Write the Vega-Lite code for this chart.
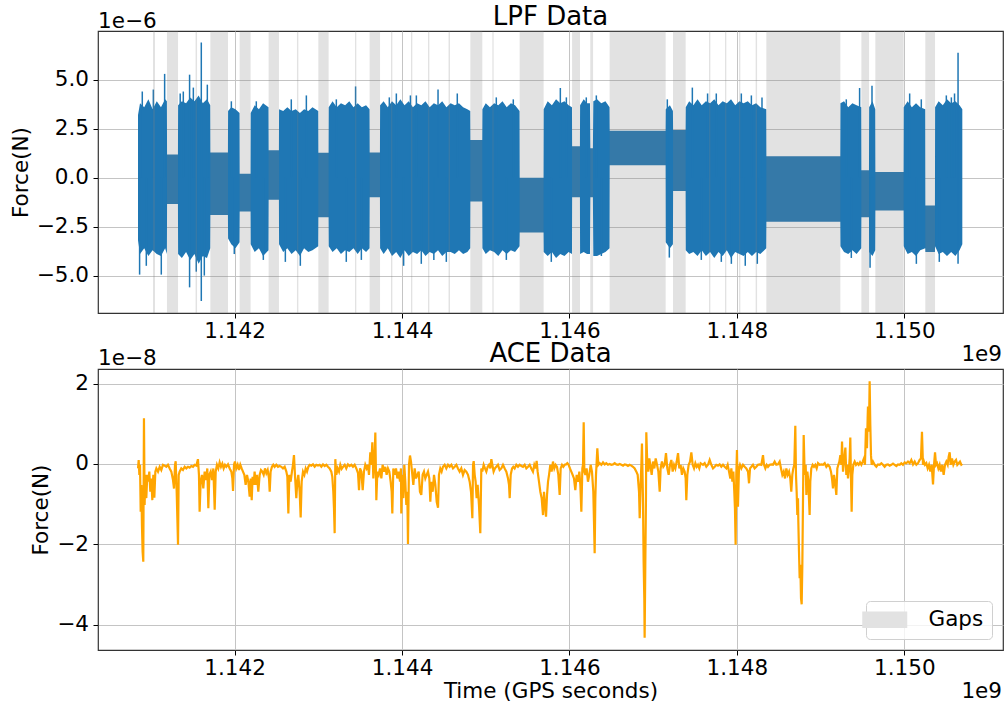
{
"$schema": "https://vega.github.io/schema/vega-lite/v6.json",
"background": "white",
"padding": {"left": 9, "top": 3, "right": 0, "bottom": 0},
"config": {
  "font": "DejaVu Sans",
  "view": {"stroke": "#333333", "strokeWidth": 1.2},
  "axis": {"labelFont": "DejaVu Sans", "titleFont": "DejaVu Sans", "labelFontSize": 21.5, "titleFontSize": 21.5, "labelColor": "#000000", "titleColor": "#000000", "titleFontWeight": "normal", "tickColor": "#000000", "tickSize": 5, "tickWidth": 1, "domain": false, "grid": true, "gridColor": "#c4c4c4", "gridWidth": 1},
  "title": {"font": "DejaVu Sans", "fontSize": 26, "fontWeight": "normal", "color": "#000000"}
},
"datasets": {
"lpf": [
{"t":1.140846,"lo":-3.2,"hi":3.2},{"t":1.140870,"lo":-3.9,"hi":3.8},{"t":1.140920,"lo":-3.6,"hi":3.6},{"t":1.140970,"lo":-4.0,"hi":4.0},{"t":1.141020,"lo":-3.7,"hi":3.5},{"t":1.141070,"lo":-3.9,"hi":3.9},{"t":1.141120,"lo":-4.0,"hi":3.6},{"t":1.141170,"lo":-3.6,"hi":4.0},{"t":1.141191,"lo":-3.9,"hi":3.9},
{"t":1.141193,"lo":-1.34,"hi":1.18},{"t":1.141323,"lo":-1.34,"hi":1.18},
{"t":1.141325,"lo":-3.9,"hi":3.7},{"t":1.141370,"lo":-4.1,"hi":3.9},{"t":1.141420,"lo":-3.8,"hi":3.8},{"t":1.141470,"lo":-4.2,"hi":4.1},{"t":1.141520,"lo":-3.9,"hi":3.9},{"t":1.141570,"lo":-4.4,"hi":4.2},{"t":1.141620,"lo":-4.0,"hi":3.8},{"t":1.141670,"lo":-4.1,"hi":4.0},{"t":1.141709,"lo":-3.6,"hi":3.7},
{"t":1.141711,"lo":-1.9,"hi":1.29},{"t":1.141920,"lo":-1.9,"hi":1.29},
{"t":1.141922,"lo":-3.1,"hi":3.4},{"t":1.141960,"lo":-3.4,"hi":3.6},{"t":1.142010,"lo":-3.6,"hi":3.5},{"t":1.142059,"lo":-3.3,"hi":3.3},
{"t":1.142061,"lo":-1.73,"hi":0.2},{"t":1.142190,"lo":-1.73,"hi":0.2},
{"t":1.142192,"lo":-3.4,"hi":3.3},{"t":1.142240,"lo":-3.8,"hi":3.7},{"t":1.142290,"lo":-3.6,"hi":3.5},{"t":1.142340,"lo":-4.0,"hi":3.8},{"t":1.142405,"lo":-3.7,"hi":3.6},
{"t":1.142407,"lo":-1.13,"hi":1.4},{"t":1.142529,"lo":-1.13,"hi":1.4},
{"t":1.142531,"lo":-3.4,"hi":3.5},{"t":1.142580,"lo":-3.8,"hi":3.4},{"t":1.142630,"lo":-3.6,"hi":3.6},{"t":1.142680,"lo":-3.9,"hi":3.4},{"t":1.142730,"lo":-3.7,"hi":3.5},{"t":1.142780,"lo":-4.0,"hi":3.3},{"t":1.142830,"lo":-3.6,"hi":3.5},{"t":1.142880,"lo":-3.8,"hi":3.4},{"t":1.142930,"lo":-3.7,"hi":3.6},{"t":1.142999,"lo":-3.5,"hi":3.4},
{"t":1.143001,"lo":-2.02,"hi":1.27},{"t":1.143122,"lo":-2.02,"hi":1.27},
{"t":1.143124,"lo":-3.5,"hi":3.6},{"t":1.143170,"lo":-3.8,"hi":3.9},{"t":1.143220,"lo":-3.6,"hi":3.6},{"t":1.143270,"lo":-3.9,"hi":3.8},{"t":1.143320,"lo":-3.7,"hi":3.7},{"t":1.143370,"lo":-3.8,"hi":3.9},{"t":1.143420,"lo":-3.6,"hi":3.6},{"t":1.143470,"lo":-3.9,"hi":3.8},{"t":1.143520,"lo":-3.6,"hi":3.6},{"t":1.143570,"lo":-3.8,"hi":3.7},{"t":1.143612,"lo":-3.6,"hi":3.5},
{"t":1.143614,"lo":-1.0,"hi":1.29},{"t":1.143736,"lo":-1.0,"hi":1.29},
{"t":1.143738,"lo":-3.6,"hi":3.7},{"t":1.143780,"lo":-3.9,"hi":3.9},{"t":1.143830,"lo":-3.6,"hi":3.6},{"t":1.143880,"lo":-4.0,"hi":3.9},{"t":1.143930,"lo":-3.8,"hi":3.7},{"t":1.143980,"lo":-4.1,"hi":4.0},{"t":1.144030,"lo":-3.7,"hi":3.7},{"t":1.144080,"lo":-4.0,"hi":3.9},{"t":1.144130,"lo":-3.8,"hi":3.6},{"t":1.144180,"lo":-3.9,"hi":3.8},{"t":1.144230,"lo":-3.7,"hi":3.7},{"t":1.144280,"lo":-4.0,"hi":3.9},{"t":1.144330,"lo":-3.8,"hi":3.6},{"t":1.144380,"lo":-3.9,"hi":3.8},{"t":1.144430,"lo":-3.7,"hi":3.7},{"t":1.144480,"lo":-4.0,"hi":3.9},{"t":1.144530,"lo":-3.8,"hi":3.6},{"t":1.144580,"lo":-3.8,"hi":3.8},{"t":1.144630,"lo":-3.9,"hi":3.7},{"t":1.144680,"lo":-3.7,"hi":3.8},{"t":1.144730,"lo":-3.9,"hi":3.6},{"t":1.144780,"lo":-3.8,"hi":3.5},{"t":1.144815,"lo":-3.6,"hi":3.4},
{"t":1.144817,"lo":-1.22,"hi":1.92},{"t":1.144958,"lo":-1.22,"hi":1.92},
{"t":1.144960,"lo":-3.6,"hi":3.5},{"t":1.145000,"lo":-3.9,"hi":3.8},{"t":1.145050,"lo":-3.7,"hi":3.6},{"t":1.145100,"lo":-3.8,"hi":3.8},{"t":1.145150,"lo":-4.0,"hi":3.7},{"t":1.145200,"lo":-3.7,"hi":3.9},{"t":1.145250,"lo":-3.9,"hi":3.6},{"t":1.145300,"lo":-3.7,"hi":3.8},{"t":1.145350,"lo":-3.8,"hi":3.7},{"t":1.145404,"lo":-3.5,"hi":3.4},
{"t":1.145406,"lo":-2.8,"hi":0.0},{"t":1.145690,"lo":-2.8,"hi":0.0},
{"t":1.145692,"lo":-3.8,"hi":3.5},{"t":1.145740,"lo":-4.0,"hi":3.9},{"t":1.145790,"lo":-3.8,"hi":3.7},{"t":1.145840,"lo":-4.1,"hi":4.0},{"t":1.145890,"lo":-3.9,"hi":3.8},{"t":1.145940,"lo":-4.0,"hi":3.9},{"t":1.145990,"lo":-3.8,"hi":3.7},{"t":1.146030,"lo":-3.9,"hi":3.6},
{"t":1.146032,"lo":-1.0,"hi":1.6},{"t":1.146125,"lo":-1.0,"hi":1.6},
{"t":1.146127,"lo":-3.9,"hi":3.7},{"t":1.146170,"lo":-3.8,"hi":4.0},{"t":1.146210,"lo":-3.9,"hi":3.8},{"t":1.146245,"lo":-3.9,"hi":3.8},{"t":1.146250,"lo":-1.0,"hi":1.5},{"t":1.146280,"lo":-1.0,"hi":1.5},{"t":1.146285,"lo":-4.0,"hi":3.9},{"t":1.146330,"lo":-4.0,"hi":4.0},{"t":1.146380,"lo":-3.9,"hi":3.8},{"t":1.146430,"lo":-3.8,"hi":3.9},{"t":1.146479,"lo":-3.6,"hi":3.6},
{"t":1.146481,"lo":0.63,"hi":2.4},{"t":1.147148,"lo":0.63,"hi":2.4},
{"t":1.147150,"lo":-3.3,"hi":3.5},{"t":1.147200,"lo":-3.6,"hi":3.7},{"t":1.147236,"lo":-3.4,"hi":3.4},
{"t":1.147238,"lo":-0.68,"hi":2.43},{"t":1.147387,"lo":-0.68,"hi":2.43},
{"t":1.147389,"lo":-3.7,"hi":3.6},{"t":1.147430,"lo":-3.9,"hi":3.9},{"t":1.147480,"lo":-3.8,"hi":3.7},{"t":1.147530,"lo":-4.0,"hi":4.0},{"t":1.147580,"lo":-3.7,"hi":3.7},{"t":1.147630,"lo":-4.0,"hi":3.9},{"t":1.147680,"lo":-3.8,"hi":3.8},{"t":1.147730,"lo":-4.1,"hi":4.0},{"t":1.147780,"lo":-3.8,"hi":3.7},{"t":1.147830,"lo":-4.0,"hi":3.9},{"t":1.147880,"lo":-3.7,"hi":3.8},{"t":1.147930,"lo":-4.1,"hi":4.0},{"t":1.147980,"lo":-3.8,"hi":3.7},{"t":1.148030,"lo":-3.9,"hi":3.9},{"t":1.148080,"lo":-4.0,"hi":3.8},{"t":1.148130,"lo":-3.8,"hi":3.9},{"t":1.148180,"lo":-4.0,"hi":3.7},{"t":1.148230,"lo":-3.8,"hi":3.8},{"t":1.148280,"lo":-3.9,"hi":3.6},{"t":1.148351,"lo":-3.6,"hi":3.5},
{"t":1.148353,"lo":-2.25,"hi":1.1},{"t":1.149235,"lo":-2.25,"hi":1.1},
{"t":1.149237,"lo":-3.5,"hi":3.8},{"t":1.149280,"lo":-3.8,"hi":3.9},{"t":1.149330,"lo":-3.9,"hi":3.6},{"t":1.149380,"lo":-3.7,"hi":3.8},{"t":1.149430,"lo":-3.9,"hi":3.7},{"t":1.149486,"lo":-3.6,"hi":3.6},
{"t":1.149488,"lo":-2.02,"hi":0.38},{"t":1.149578,"lo":-2.02,"hi":0.38},
{"t":1.149580,"lo":-3.8,"hi":3.6},{"t":1.149620,"lo":-4.0,"hi":3.9},{"t":1.149653,"lo":-3.7,"hi":3.5},
{"t":1.149655,"lo":-1.68,"hi":0.29},{"t":1.149991,"lo":-1.68,"hi":0.29},
{"t":1.149993,"lo":-3.5,"hi":3.6},{"t":1.150040,"lo":-3.9,"hi":3.9},{"t":1.150090,"lo":-3.8,"hi":3.6},{"t":1.150140,"lo":-4.0,"hi":3.8},{"t":1.150190,"lo":-3.7,"hi":3.6},{"t":1.150250,"lo":-3.6,"hi":3.5},
{"t":1.150252,"lo":-3.79,"hi":-1.42},{"t":1.150366,"lo":-3.79,"hi":-1.42},
{"t":1.150368,"lo":-3.5,"hi":3.6},{"t":1.150410,"lo":-3.9,"hi":3.9},{"t":1.150460,"lo":-3.8,"hi":3.7},{"t":1.150510,"lo":-4.0,"hi":4.0},{"t":1.150560,"lo":-3.8,"hi":3.8},{"t":1.150610,"lo":-4.0,"hi":3.9},{"t":1.150660,"lo":-3.7,"hi":3.7},{"t":1.150693,"lo":-3.4,"hi":3.5}
],
"lpf_spikes": [
{"t":1.140865,"lo":-4.95,"hi":0},{"t":1.141164,"lo":0,"hi":5.3},{"t":1.141124,"lo":-4.95,"hi":0},{"t":1.141029,"lo":0,"hi":4.5},{"t":1.140945,"lo":-4.5,"hi":0},{"t":1.140897,"lo":0,"hi":4.4},
{"t":1.141462,"lo":-5.6,"hi":5.26},{"t":1.141602,"lo":-6.3,"hi":6.9},{"t":1.141674,"lo":0,"hi":4.75},{"t":1.141542,"lo":-4.8,"hi":0},{"t":1.141387,"lo":0,"hi":4.4},{"t":1.141638,"lo":-5.0,"hi":0},{"t":1.141507,"lo":0,"hi":4.6},{"t":1.141350,"lo":0,"hi":4.3},
{"t":1.141961,"lo":0,"hi":3.9},{"t":1.141996,"lo":-3.9,"hi":0},{"t":1.142259,"lo":0,"hi":3.9},{"t":1.142343,"lo":-4.2,"hi":0},
{"t":1.142785,"lo":-4.5,"hi":0},{"t":1.142677,"lo":0,"hi":4.0},{"t":1.142857,"lo":0,"hi":4.2},{"t":1.142606,"lo":-4.3,"hi":0},
{"t":1.143445,"lo":0,"hi":4.66},{"t":1.143334,"lo":-4.3,"hi":0},{"t":1.143215,"lo":0,"hi":4.0},{"t":1.143514,"lo":-4.2,"hi":0},
{"t":1.144430,"lo":0,"hi":4.5},{"t":1.144660,"lo":0,"hi":4.3},{"t":1.144019,"lo":-4.5,"hi":0},{"t":1.143932,"lo":0,"hi":4.3},{"t":1.144230,"lo":-4.4,"hi":0},{"t":1.144171,"lo":0,"hi":4.2},{"t":1.144529,"lo":-4.3,"hi":0},{"t":1.143848,"lo":0,"hi":4.1},{"t":1.144380,"lo":-4.2,"hi":0},{"t":1.144100,"lo":0,"hi":4.2},
{"t":1.145126,"lo":0,"hi":4.1},{"t":1.145246,"lo":-4.2,"hi":0},{"t":1.145329,"lo":0,"hi":4.0},
{"t":1.145891,"lo":0,"hi":4.58},{"t":1.145783,"lo":-4.3,"hi":0},{"t":1.145963,"lo":0,"hi":4.1},
{"t":1.146201,"lo":0,"hi":4.1},{"t":1.146381,"lo":-4.0,"hi":0},{"t":1.146321,"lo":0,"hi":4.2},
{"t":1.147169,"lo":0,"hi":4.0},{"t":1.147193,"lo":-4.08,"hi":0},
{"t":1.147468,"lo":0,"hi":4.6},{"t":1.147575,"lo":-4.2,"hi":0},{"t":1.147754,"lo":0,"hi":4.3},{"t":1.147934,"lo":-4.4,"hi":0},{"t":1.148053,"lo":0,"hi":4.3},{"t":1.148244,"lo":-4.4,"hi":0},{"t":1.148173,"lo":0,"hi":4.2},{"t":1.147814,"lo":-4.3,"hi":0},{"t":1.147650,"lo":0,"hi":4.3},{"t":1.148100,"lo":-4.5,"hi":0},{"t":1.148300,"lo":0,"hi":4.1},
{"t":1.149466,"lo":0,"hi":4.58},{"t":1.149307,"lo":0,"hi":4.0},{"t":1.149367,"lo":-4.1,"hi":0},
{"t":1.149614,"lo":0,"hi":4.7},{"t":1.149591,"lo":-4.6,"hi":0},
{"t":1.150064,"lo":0,"hi":4.3},{"t":1.150144,"lo":-4.4,"hi":0},{"t":1.150203,"lo":0,"hi":4.0},
{"t":1.150642,"lo":-4.4,"hi":6.38},{"t":1.150502,"lo":0,"hi":4.2},{"t":1.150418,"lo":-4.3,"hi":0},{"t":1.150562,"lo":0,"hi":4.1},{"t":1.150600,"lo":0,"hi":4.3}
],
"gaps": [
{"start":1.141192,"end":1.141324},{"start":1.141710,"end":1.141921},{"start":1.142060,"end":1.142191},{"start":1.142406,"end":1.142530},{"start":1.143000,"end":1.143123},{"start":1.143613,"end":1.143737},{"start":1.144816,"end":1.144959},{"start":1.145405,"end":1.145691},{"start":1.146031,"end":1.146126},{"start":1.146480,"end":1.147149},{"start":1.147237,"end":1.147388},{"start":1.148352,"end":1.149236},{"start":1.149487,"end":1.149579},{"start":1.149654,"end":1.149992},{"start":1.150251,"end":1.150367},
{"start":1.141025,"end":1.141049},{"start":1.141534,"end":1.141551},{"start":1.142745,"end":1.142761},{"start":1.143438,"end":1.143454},{"start":1.143868,"end":1.143884},{"start":1.144107,"end":1.144123},{"start":1.144310,"end":1.144326},{"start":1.144556,"end":1.144573},{"start":1.145079,"end":1.145094},{"start":1.146249,"end":1.146282},{"start":1.147667,"end":1.147683},{"start":1.147858,"end":1.147874},{"start":1.148026,"end":1.148041},{"start":1.148224,"end":1.148241}
],
"ace": [
{"t":1.140846,"f":-0.11},{"t":1.140854,"f":0.10},{"t":1.140862,"f":-0.27},{"t":1.140870,"f":-0.02},{"t":1.140878,"f":-1.19},{"t":1.140886,"f":-0.52},{"t":1.140893,"f":-1.52},{"t":1.140901,"f":-2.18},{"t":1.140909,"f":-2.43},{"t":1.140917,"f":1.14},{"t":1.140925,"f":-1.02},{"t":1.140933,"f":-0.27},{"t":1.140945,"f":-0.85},{"t":1.140957,"f":-0.27},{"t":1.140969,"f":-0.44},{"t":1.140981,"f":-0.19},{"t":1.140993,"f":-0.69},{"t":1.141005,"f":-0.36},{"t":1.141017,"f":-0.90},{"t":1.141029,"f":-0.27},{"t":1.141041,"f":-0.84},{"t":1.141053,"f":-0.19},{"t":1.141065,"f":-0.11},{"t":1.141085,"f":-0.19},{"t":1.141105,"f":-0.07},{"t":1.141124,"f":-0.15},{"t":1.141144,"f":-0.02},{"t":1.141164,"f":-0.04},{"t":1.141184,"f":-0.07},{"t":1.141204,"f":-0.02},{"t":1.141224,"f":-0.11},{"t":1.141244,"f":-0.19},{"t":1.141264,"f":-0.40},{"t":1.141276,"f":-0.61},{"t":1.141288,"f":-0.02},{"t":1.141296,"f":0.07},{"t":1.141308,"f":-0.69},{"t":1.141316,"f":-1.35},{"t":1.141324,"f":-2.01},{"t":1.141332,"f":-0.27},{"t":1.141343,"f":-0.19},{"t":1.141363,"f":-0.11},{"t":1.141383,"f":-0.15},{"t":1.141403,"f":-0.07},{"t":1.141423,"f":-0.11},{"t":1.141443,"f":-0.07},{"t":1.141463,"f":-0.09},{"t":1.141483,"f":-0.05},{"t":1.141503,"f":-0.07},{"t":1.141523,"f":-0.02},{"t":1.141543,"f":-0.04},{"t":1.141562,"f":0.12},{"t":1.141574,"f":-0.27},{"t":1.141582,"f":-1.19},{"t":1.141594,"f":-0.44},{"t":1.141610,"f":-0.27},{"t":1.141626,"f":-0.61},{"t":1.141642,"f":-0.19},{"t":1.141658,"f":-0.40},{"t":1.141674,"f":-0.11},{"t":1.141686,"f":-1.10},{"t":1.141698,"f":-0.27},{"t":1.141714,"f":-0.19},{"t":1.141730,"f":-0.40},{"t":1.141746,"f":-0.11},{"t":1.141762,"f":-1.14},{"t":1.141774,"f":-0.19},{"t":1.141789,"f":-0.02},{"t":1.141805,"f":-0.11},{"t":1.141821,"f":0.04},{"t":1.141837,"f":-0.07},{"t":1.141853,"f":0.01},{"t":1.141869,"f":-0.11},{"t":1.141885,"f":-0.02},{"t":1.141901,"f":-0.07},{"t":1.141921,"f":-0.01},{"t":1.141941,"f":-0.11},{"t":1.141961,"f":-0.19},{"t":1.141973,"f":-0.36},{"t":1.141981,"f":-0.67},{"t":1.141993,"f":-0.02},{"t":1.142004,"f":0.06},{"t":1.142020,"f":-0.11},{"t":1.142036,"f":-0.02},{"t":1.142052,"f":-0.15},{"t":1.142068,"f":-0.02},{"t":1.142084,"f":-0.11},{"t":1.142100,"f":-0.19},{"t":1.142116,"f":-0.27},{"t":1.142132,"f":-0.52},{"t":1.142148,"f":-0.27},{"t":1.142164,"f":-0.44},{"t":1.142180,"f":-0.81},{"t":1.142192,"f":-0.36},{"t":1.142204,"f":-0.90},{"t":1.142215,"f":-0.32},{"t":1.142227,"f":-0.52},{"t":1.142239,"f":-0.19},{"t":1.142251,"f":-0.52},{"t":1.142267,"f":-0.27},{"t":1.142283,"f":-0.69},{"t":1.142299,"f":-0.27},{"t":1.142315,"f":-0.15},{"t":1.142331,"f":-0.19},{"t":1.142347,"f":-0.27},{"t":1.142363,"f":-0.11},{"t":1.142379,"f":-0.23},{"t":1.142395,"f":-0.15},{"t":1.142411,"f":-0.36},{"t":1.142419,"f":-0.69},{"t":1.142430,"f":-0.19},{"t":1.142446,"f":-0.07},{"t":1.142462,"f":-0.02},{"t":1.142478,"f":-0.07},{"t":1.142498,"f":-0.02},{"t":1.142518,"f":-0.07},{"t":1.142538,"f":-0.05},{"t":1.142558,"f":-0.07},{"t":1.142578,"f":-0.11},{"t":1.142598,"f":-0.07},{"t":1.142618,"f":-0.19},{"t":1.142630,"f":-0.32},{"t":1.142642,"f":-1.23},{"t":1.142654,"f":-0.27},{"t":1.142669,"f":-0.44},{"t":1.142685,"f":-0.19},{"t":1.142697,"f":-0.02},{"t":1.142709,"f":0.22},{"t":1.142721,"f":-0.27},{"t":1.142737,"f":-0.85},{"t":1.142749,"f":-0.44},{"t":1.142761,"f":-0.27},{"t":1.142777,"f":-0.69},{"t":1.142789,"f":-1.33},{"t":1.142801,"f":-0.44},{"t":1.142817,"f":-0.19},{"t":1.142833,"f":-0.27},{"t":1.142849,"f":-0.11},{"t":1.142865,"f":-0.19},{"t":1.142881,"f":-0.07},{"t":1.142896,"f":-0.02},{"t":1.142916,"f":-0.04},{"t":1.142936,"f":-0.01},{"t":1.142956,"f":-0.07},{"t":1.142976,"f":-0.02},{"t":1.142996,"f":-0.04},{"t":1.143016,"f":-0.02},{"t":1.143036,"f":-0.07},{"t":1.143056,"f":-0.01},{"t":1.143076,"f":-0.05},{"t":1.143096,"f":-0.02},{"t":1.143115,"f":-0.07},{"t":1.143135,"f":-0.11},{"t":1.143155,"f":-0.19},{"t":1.143167,"f":-0.32},{"t":1.143179,"f":-0.69},{"t":1.143187,"f":-1.10},{"t":1.143195,"f":-1.72},{"t":1.143203,"f":0.12},{"t":1.143215,"f":-0.27},{"t":1.143231,"f":-0.11},{"t":1.143247,"f":-0.19},{"t":1.143263,"f":-0.02},{"t":1.143279,"f":-0.12},{"t":1.143295,"f":-0.07},{"t":1.143315,"f":-0.02},{"t":1.143334,"f":-0.11},{"t":1.143354,"f":-0.01},{"t":1.143374,"f":-0.05},{"t":1.143394,"f":-0.02},{"t":1.143414,"f":-0.07},{"t":1.143434,"f":-0.02},{"t":1.143454,"f":-0.11},{"t":1.143474,"f":-0.23},{"t":1.143486,"f":-0.65},{"t":1.143498,"f":-0.11},{"t":1.143514,"f":-0.19},{"t":1.143530,"f":-0.65},{"t":1.143545,"f":-0.19},{"t":1.143561,"f":-0.02},{"t":1.143577,"f":-0.11},{"t":1.143593,"f":-0.02},{"t":1.143605,"f":-0.27},{"t":1.143621,"f":0.29},{"t":1.143633,"f":-0.02},{"t":1.143645,"f":0.54},{"t":1.143657,"f":-0.36},{"t":1.143669,"f":-0.02},{"t":1.143681,"f":0.78},{"t":1.143693,"f":-0.90},{"t":1.143705,"f":-0.19},{"t":1.143721,"f":-0.27},{"t":1.143737,"f":-0.11},{"t":1.143753,"f":-0.36},{"t":1.143768,"f":-0.02},{"t":1.143784,"f":-0.19},{"t":1.143800,"f":-0.07},{"t":1.143816,"f":-0.27},{"t":1.143832,"f":-0.11},{"t":1.143848,"f":-0.19},{"t":1.143864,"f":-0.44},{"t":1.143876,"f":-0.69},{"t":1.143884,"f":-1.23},{"t":1.143896,"f":-0.11},{"t":1.143912,"f":-0.27},{"t":1.143928,"f":-0.11},{"t":1.143944,"f":-0.36},{"t":1.143960,"f":-0.19},{"t":1.143976,"f":-0.44},{"t":1.143987,"f":-0.11},
{"t":1.143991,"f":-1.23},{"t":1.144003,"f":-0.27},{"t":1.144015,"f":-0.85},{"t":1.144027,"f":-0.02},{"t":1.144039,"f":-0.44},{"t":1.144051,"f":-1.02},{"t":1.144063,"f":-0.69},{"t":1.144071,"f":-1.99},{"t":1.144083,"f":-0.02},{"t":1.144095,"f":0.21},{"t":1.144107,"f":0.06},{"t":1.144119,"f":-0.19},{"t":1.144135,"f":-0.52},{"t":1.144151,"f":-0.11},{"t":1.144167,"f":-0.36},{"t":1.144183,"f":-0.27},{"t":1.144199,"f":-0.19},{"t":1.144214,"f":-0.69},{"t":1.144230,"f":-0.77},{"t":1.144246,"f":-0.27},{"t":1.144262,"f":-0.19},{"t":1.144278,"f":-0.36},{"t":1.144294,"f":-0.27},{"t":1.144310,"f":-0.19},{"t":1.144326,"f":-0.36},{"t":1.144338,"f":-0.94},{"t":1.144350,"f":-0.44},{"t":1.144366,"f":-0.69},{"t":1.144382,"f":-0.27},{"t":1.144398,"f":-0.52},{"t":1.144414,"f":-0.94},{"t":1.144430,"f":-1.09},{"t":1.144441,"f":-0.27},{"t":1.144457,"f":-0.11},{"t":1.144473,"f":-0.19},{"t":1.144489,"f":-0.07},{"t":1.144509,"f":-0.02},{"t":1.144529,"f":-0.11},{"t":1.144549,"f":-0.02},{"t":1.144569,"f":-0.07},{"t":1.144589,"f":-0.02},{"t":1.144609,"f":-0.11},{"t":1.144629,"f":-0.07},{"t":1.144649,"f":-0.02},{"t":1.144668,"f":-0.11},{"t":1.144688,"f":-0.19},{"t":1.144708,"f":-0.11},{"t":1.144728,"f":-0.27},{"t":1.144748,"f":-0.15},{"t":1.144768,"f":-0.19},{"t":1.144788,"f":-0.27},{"t":1.144808,"f":-0.44},{"t":1.144824,"f":-0.69},{"t":1.144840,"f":-1.35},{"t":1.144848,"f":-0.02},{"t":1.144856,"f":0.07},{"t":1.144868,"f":-0.27},{"t":1.144879,"f":-0.44},{"t":1.144891,"f":-0.85},{"t":1.144903,"f":-0.52},{"t":1.144919,"f":-1.02},{"t":1.144935,"f":-1.72},{"t":1.144947,"f":-0.11},{"t":1.144959,"f":-0.19},{"t":1.144975,"f":-0.02},{"t":1.144991,"f":-0.11},{"t":1.145007,"f":-0.19},{"t":1.145023,"f":-0.07},{"t":1.145039,"f":-0.02},{"t":1.145055,"f":-0.11},{"t":1.145067,"f":0.12},{"t":1.145079,"f":-0.02},{"t":1.145094,"f":-0.19},{"t":1.145110,"f":-0.11},{"t":1.145126,"f":-0.07},{"t":1.145146,"f":-0.02},{"t":1.145166,"f":-0.15},{"t":1.145186,"f":-0.11},{"t":1.145206,"f":-0.02},{"t":1.145226,"f":-0.11},{"t":1.145246,"f":-0.19},{"t":1.145266,"f":-0.36},{"t":1.145278,"f":-0.52},{"t":1.145286,"f":-0.85},{"t":1.145298,"f":-0.27},{"t":1.145314,"f":-0.11},{"t":1.145329,"f":-0.07},{"t":1.145345,"f":-0.11},{"t":1.145365,"f":-0.02},{"t":1.145385,"f":-0.07},{"t":1.145405,"f":-0.02},{"t":1.145425,"f":-0.05},{"t":1.145445,"f":-0.07},{"t":1.145465,"f":-0.02},{"t":1.145485,"f":-0.11},{"t":1.145505,"f":-0.07},{"t":1.145525,"f":-0.02},{"t":1.145544,"f":-0.11},{"t":1.145564,"f":-0.19},{"t":1.145580,"f":-0.02},{"t":1.145596,"f":-0.11},{"t":1.145608,"f":0.08},{"t":1.145620,"f":-0.19},{"t":1.145636,"f":-0.44},{"t":1.145652,"f":-0.69},{"t":1.145668,"f":-0.85},{"t":1.145684,"f":-1.27},{"t":1.145696,"f":-0.69},{"t":1.145708,"f":-1.02},{"t":1.145720,"f":-1.31},{"t":1.145732,"f":-0.77},{"t":1.145744,"f":-0.44},{"t":1.145756,"f":-0.27},{"t":1.145771,"f":-0.02},{"t":1.145787,"f":-0.19},{"t":1.145803,"f":0.06},{"t":1.145819,"f":-0.11},{"t":1.145835,"f":-0.02},{"t":1.145851,"f":-0.07},{"t":1.145867,"f":-0.27},{"t":1.145883,"f":-0.77},{"t":1.145895,"f":-0.11},{"t":1.145911,"f":-0.02},{"t":1.145927,"f":-0.07},{"t":1.145943,"f":-0.02},{"t":1.145959,"f":-0.01},{"t":1.145975,"f":0.02},{"t":1.145990,"f":-0.02},{"t":1.146006,"f":-0.11},{"t":1.146022,"f":-0.19},{"t":1.146038,"f":-0.27},{"t":1.146054,"f":-0.36},{"t":1.146070,"f":-0.65},{"t":1.146086,"f":-0.27},{"t":1.146102,"f":-0.44},{"t":1.146118,"f":-0.19},{"t":1.146130,"f":-0.52},{"t":1.146142,"f":-1.19},{"t":1.146154,"f":-0.11},{"t":1.146162,"f":-0.02},{"t":1.146170,"f":1.04},{"t":1.146178,"f":-0.19},{"t":1.146190,"f":-0.27},{"t":1.146205,"f":-0.11},{"t":1.146221,"f":-0.44},{"t":1.146237,"f":-0.27},{"t":1.146253,"f":-0.02},{"t":1.146269,"f":-0.19},{"t":1.146285,"f":-0.69},{"t":1.146293,"f":-1.43},{"t":1.146301,"f":-2.22},{"t":1.146309,"f":-0.85},{"t":1.146317,"f":-0.27},{"t":1.146325,"f":0.06},{"t":1.146333,"f":0.39},{"t":1.146345,"f":-0.02},{"t":1.146361,"f":0.02},{"t":1.146381,"f":-0.02},{"t":1.146401,"f":0.04},{"t":1.146421,"f":-0.01},{"t":1.146440,"f":0.02},{"t":1.146460,"f":-0.02},{"t":1.146480,"f":0.00},{"t":1.146500,"f":-0.02},{"t":1.146520,"f":-0.01},{"t":1.146540,"f":0.02},{"t":1.146560,"f":-0.01},{"t":1.146580,"f":-0.02},{"t":1.146600,"f":0.00},{"t":1.146620,"f":-0.02},{"t":1.146640,"f":-0.04},{"t":1.146659,"f":-0.01},{"t":1.146679,"f":-0.02},{"t":1.146699,"f":-0.05},{"t":1.146719,"f":-0.02},{"t":1.146739,"f":-0.04},{"t":1.146759,"f":-0.07},{"t":1.146779,"f":-0.11},{"t":1.146799,"f":-0.19},{"t":1.146815,"f":-0.27},{"t":1.146831,"f":-0.69},{"t":1.146839,"f":-1.35},{"t":1.146851,"f":-0.44},{"t":1.146859,"f":-0.02},{"t":1.146866,"f":0.51},{"t":1.146878,"f":-0.85},{"t":1.146886,"f":-2.43},{"t":1.146894,"f":-3.34},{"t":1.146898,"f":-4.32},{"t":1.146906,"f":-2.51},{"t":1.146914,"f":-0.85},{"t":1.146918,"f":0.79},{"t":1.146930,"f":-0.02},{"t":1.146942,"f":-0.19},{"t":1.146954,"f":0.14},{"t":1.146966,"f":-0.02},{"t":1.146982,"f":-0.27},{"t":1.146998,"f":0.06},{"t":1.147014,"f":-0.11},{"t":1.147030,"f":0.14},{"t":1.147046,"f":-0.02},{"t":1.147062,"f":-0.19},{"t":1.147078,"f":-0.69},{"t":1.147089,"f":-0.11},{"t":1.147105,"f":0.06},{"t":1.147121,"f":-0.07},{"t":1.147137,"f":-0.02},{"t":1.147153,"f":0.27},{"t":1.147169,"f":-0.11},{"t":1.147185,"f":-0.27},{"t":1.147201,"f":-0.02},{"t":1.147217,"f":0.10},{"t":1.147233,"f":-0.19},{"t":1.147249,"f":-0.02},{"t":1.147265,"f":-0.11},{"t":1.147281,"f":0.06},{"t":1.147297,"f":0.27},{"t":1.147312,"f":-0.11},{"t":1.147328,"f":-0.02},{"t":1.147344,"f":-0.27},{"t":1.147360,"f":-0.11},{"t":1.147376,"f":-0.19},{"t":1.147388,"f":-0.36},{"t":1.147396,"f":-0.90},{"t":1.147408,"f":-0.27},{"t":1.147424,"f":-0.02},{"t":1.147440,"f":0.06},{"t":1.147456,"f":0.29},{"t":1.147472,"f":-0.02},{"t":1.147488,"f":-0.11},{"t":1.147504,"f":0.02},{"t":1.147520,"f":-0.07},{"t":1.147535,"f":-0.02},{"t":1.147551,"f":-0.11},{"t":1.147567,"f":0.02},
{"t":1.147595,"f":-0.02},{"t":1.147615,"f":0.02},{"t":1.147635,"f":-0.07},{"t":1.147655,"f":-0.02},{"t":1.147675,"f":0.10},{"t":1.147695,"f":-0.02},{"t":1.147715,"f":-0.11},{"t":1.147735,"f":-0.07},{"t":1.147754,"f":-0.02},{"t":1.147774,"f":-0.04},{"t":1.147794,"f":-0.01},{"t":1.147814,"f":-0.07},{"t":1.147834,"f":-0.02},{"t":1.147854,"f":-0.07},{"t":1.147874,"f":-0.11},{"t":1.147890,"f":-0.02},{"t":1.147906,"f":-0.19},{"t":1.147922,"f":-0.36},{"t":1.147934,"f":-0.11},{"t":1.147946,"f":-0.44},{"t":1.147958,"f":-0.19},{"t":1.147969,"f":-0.69},{"t":1.147977,"f":-1.10},{"t":1.147985,"f":-2.01},{"t":1.147993,"f":-0.27},{"t":1.148001,"f":0.35},{"t":1.148013,"f":-1.06},{"t":1.148025,"f":-0.11},{"t":1.148037,"f":-0.02},{"t":1.148053,"f":-0.11},{"t":1.148073,"f":-0.02},{"t":1.148093,"f":-0.07},{"t":1.148113,"f":-0.11},{"t":1.148133,"f":-0.19},{"t":1.148145,"f":-0.48},{"t":1.148157,"f":-0.11},{"t":1.148173,"f":-0.07},{"t":1.148192,"f":-0.02},{"t":1.148212,"f":-0.11},{"t":1.148232,"f":-0.07},{"t":1.148252,"f":-0.02},{"t":1.148272,"f":-0.01},{"t":1.148292,"f":-0.02},{"t":1.148312,"f":0.22},{"t":1.148324,"f":-0.02},{"t":1.148340,"f":-0.11},{"t":1.148356,"f":-0.02},{"t":1.148372,"f":-0.07},{"t":1.148392,"f":-0.02},{"t":1.148412,"f":-0.01},{"t":1.148431,"f":-0.02},{"t":1.148451,"f":0.06},{"t":1.148471,"f":-0.02},{"t":1.148491,"f":-0.01},{"t":1.148511,"f":0.06},{"t":1.148527,"f":-0.11},{"t":1.148543,"f":-0.27},{"t":1.148559,"f":-0.19},{"t":1.148575,"f":-0.36},{"t":1.148591,"f":-0.11},{"t":1.148607,"f":-0.27},{"t":1.148623,"f":-0.19},{"t":1.148638,"f":-0.36},{"t":1.148650,"f":-0.69},{"t":1.148662,"f":-0.27},{"t":1.148674,"f":-0.11},{"t":1.148686,"f":-0.02},{"t":1.148698,"f":0.95},{"t":1.148706,"f":-0.27},{"t":1.148714,"f":-0.69},{"t":1.148722,"f":-1.27},{"t":1.148730,"f":-0.85},{"t":1.148734,"f":-1.43},{"t":1.148742,"f":-2.18},{"t":1.148750,"f":-2.84},{"t":1.148758,"f":-2.51},{"t":1.148766,"f":-3.34},{"t":1.148774,"f":-3.49},{"t":1.148782,"f":-2.51},{"t":1.148790,"f":-0.85},{"t":1.148798,"f":0.72},{"t":1.148810,"f":-0.27},{"t":1.148822,"f":-0.02},{"t":1.148830,"f":-0.77},{"t":1.148842,"f":-0.19},{"t":1.148854,"f":-0.44},{"t":1.148861,"f":-0.85},{"t":1.148869,"f":-1.27},{"t":1.148877,"f":-0.44},{"t":1.148889,"f":-0.11},{"t":1.148905,"f":-0.02},{"t":1.148921,"f":-0.07},{"t":1.148937,"f":-0.02},{"t":1.148953,"f":-0.11},{"t":1.148969,"f":0.02},{"t":1.148989,"f":-0.02},{"t":1.149009,"f":-0.01},{"t":1.149029,"f":-0.02},{"t":1.149049,"f":0.02},{"t":1.149069,"f":-0.07},{"t":1.149088,"f":-0.02},{"t":1.149108,"f":-0.07},{"t":1.149124,"f":-0.19},{"t":1.149136,"f":-0.36},{"t":1.149148,"f":-0.61},{"t":1.149160,"f":-0.27},{"t":1.149172,"f":-0.44},{"t":1.149188,"f":-0.77},{"t":1.149200,"f":-0.11},{"t":1.149212,"f":-0.02},{"t":1.149224,"f":0.06},{"t":1.149236,"f":0.22},{"t":1.149248,"f":-0.02},{"t":1.149256,"f":0.56},{"t":1.149268,"f":-0.19},{"t":1.149280,"f":0.06},{"t":1.149296,"f":0.41},{"t":1.149307,"f":-0.27},{"t":1.149319,"f":-0.02},{"t":1.149327,"f":-0.36},{"t":1.149339,"f":-0.11},{"t":1.149347,"f":0.14},{"t":1.149355,"f":0.66},{"t":1.149363,"f":-0.36},{"t":1.149371,"f":-1.19},{"t":1.149379,"f":-0.27},{"t":1.149391,"f":-0.02},{"t":1.149407,"f":0.06},{"t":1.149423,"f":-0.02},{"t":1.149439,"f":0.02},{"t":1.149455,"f":-0.02},{"t":1.149471,"f":0.04},{"t":1.149487,"f":-0.02},{"t":1.149503,"f":0.06},{"t":1.149518,"f":0.14},{"t":1.149530,"f":-0.02},{"t":1.149542,"f":0.89},{"t":1.149554,"f":0.39},{"t":1.149562,"f":1.14},{"t":1.149566,"f":1.43},{"t":1.149574,"f":0.80},{"t":1.149582,"f":1.47},{"t":1.149586,"f":2.06},{"t":1.149594,"f":0.97},{"t":1.149602,"f":0.22},{"t":1.149610,"f":-0.02},{"t":1.149626,"f":0.06},{"t":1.149646,"f":-0.02},{"t":1.149666,"f":-0.07},{"t":1.149686,"f":-0.01},{"t":1.149706,"f":-0.02},{"t":1.149726,"f":0.02},{"t":1.149745,"f":-0.02},{"t":1.149765,"f":-0.07},{"t":1.149785,"f":-0.02},{"t":1.149805,"f":-0.01},{"t":1.149825,"f":-0.04},{"t":1.149845,"f":-0.02},{"t":1.149865,"f":0.01},{"t":1.149885,"f":-0.02},{"t":1.149905,"f":-0.05},{"t":1.149925,"f":-0.01},{"t":1.149945,"f":-0.02},{"t":1.149964,"f":0.02},{"t":1.149984,"f":-0.02},{"t":1.150004,"f":0.04},{"t":1.150024,"f":0.02},{"t":1.150044,"f":0.06},{"t":1.150064,"f":0.02},{"t":1.150084,"f":0.10},{"t":1.150104,"f":-0.01},{"t":1.150124,"f":0.06},{"t":1.150144,"f":-0.02},{"t":1.150164,"f":0.02},{"t":1.150183,"f":0.10},{"t":1.150199,"f":0.14},{"t":1.150211,"f":0.80},{"t":1.150223,"f":-0.02},{"t":1.150235,"f":0.06},{"t":1.150247,"f":-0.02},{"t":1.150263,"f":0.02},{"t":1.150279,"f":-0.11},{"t":1.150295,"f":-0.02},{"t":1.150311,"f":-0.19},{"t":1.150327,"f":-0.02},{"t":1.150343,"f":-0.51},{"t":1.150355,"f":-0.02},{"t":1.150367,"f":0.29},{"t":1.150379,"f":-0.02},{"t":1.150391,"f":0.02},{"t":1.150407,"f":-0.11},{"t":1.150422,"f":-0.02},{"t":1.150438,"f":-0.19},{"t":1.150454,"f":-0.02},{"t":1.150470,"f":-0.27},{"t":1.150486,"f":-0.02},{"t":1.150502,"f":0.06},{"t":1.150518,"f":-0.02},{"t":1.150530,"f":0.18},{"t":1.150542,"f":0.29},{"t":1.150554,"f":-0.02},{"t":1.150570,"f":0.14},{"t":1.150586,"f":-0.02},{"t":1.150602,"f":0.06},{"t":1.150618,"f":0.10},{"t":1.150633,"f":-0.02},{"t":1.150649,"f":0.02},{"t":1.150665,"f":0.06},{"t":1.150681,"f":-0.02},{"t":1.150693,"f":0.00}
]
},
"spacing": 56,
"bounds": "flush",
"vconcat": [
{
  "width": 905, "height": 282,
  "title": {"text": "LPF Data", "frame": "group", "anchor": "middle", "baseline": "alphabetic", "offset": -40},
  "layer": [
    {"data": {"name": "lpf"}, "mark": {"type": "area", "color": "#1f77b4", "interpolate": "linear"},
     "encoding": {
       "x": {"field": "t", "type": "quantitative", "scale": {"domain": [1.140368, 1.151179], "nice": false, "zero": false},
             "axis": {"values": [1.142, 1.144, 1.146, 1.148, 1.15], "format": ".3f", "title": null, "labelPadding": 2}},
       "y": {"field": "hi", "type": "quantitative", "scale": {"domain": [-6.91, 7.49], "nice": false, "zero": false},
             "axis": {"values": [-5, -2.5, 0, 2.5, 5], "format": ".1f", "title": "Force(N)", "labelPadding": 4.5, "titlePadding": 4}},
       "y2": {"field": "lo"}
     }},
    {"data": {"name": "lpf_spikes"}, "mark": {"type": "rule", "color": "#1f77b4", "strokeWidth": 1.5},
     "encoding": {
       "x": {"field": "t", "type": "quantitative"},
       "y": {"field": "lo", "type": "quantitative"},
       "y2": {"field": "hi"}
     }},
    {"data": {"name": "gaps"}, "mark": {"type": "rect", "color": "#808080", "opacity": 0.23},
     "encoding": {
       "x": {"field": "start", "type": "quantitative"},
       "x2": {"field": "end"}
     }},
    {"data": {"values": [{"label": "1e−6"}]}, "mark": {"type": "text", "align": "left", "baseline": "alphabetic", "dy": -3, "fontSize": 21.5, "color": "#000000"},
     "encoding": {"x": {"datum": 1.140368, "type": "quantitative"}, "y": {"datum": 7.49, "type": "quantitative"}, "text": {"field": "label"}}},
    {"data": {"values": [{"label": "1e9"}]}, "mark": {"type": "text", "align": "right", "baseline": "alphabetic", "dy": 47.5, "dx": -1, "fontSize": 21.5, "color": "#000000"},
     "encoding": {"x": {"datum": 1.151179, "type": "quantitative"}, "y": {"datum": -6.91, "type": "quantitative"}, "text": {"field": "label"}}}
  ]
},
{
  "width": 905, "height": 281,
  "title": {"text": "ACE Data", "frame": "group", "anchor": "middle", "baseline": "alphabetic", "offset": -40},
  "layer": [
    {"data": {"name": "ace"}, "mark": {"type": "line", "color": "#ffa500", "strokeWidth": 2.2},
     "encoding": {
       "x": {"field": "t", "type": "quantitative", "scale": {"domain": [1.140368, 1.151179], "nice": false, "zero": false},
             "axis": {"values": [1.142, 1.144, 1.146, 1.148, 1.15], "format": ".3f", "title": "Time (GPS seconds)", "labelPadding": 2, "titlePadding": 2}},
       "y": {"field": "f", "type": "quantitative", "scale": {"domain": [-4.627, 2.363], "nice": false, "zero": false},
             "axis": {"values": [-4, -2, 0, 2], "format": "d", "title": "Force(N)", "labelPadding": 4.5, "titlePadding": 4}}
     }},
    {"data": {"name": "gaps"}, "transform": [{"filter": "datum.start > 2"}], "mark": {"type": "rect"},
     "encoding": {
       "x": {"field": "start", "type": "quantitative"},
       "x2": {"field": "end"},
       "color": {"datum": "Gaps", "type": "nominal", "scale": {"domain": ["Gaps"], "range": ["#e2e2e2"]},
         "legend": {"title": null, "orient": "bottom-right", "offset": 11, "padding": 8, "cornerRadius": 4, "strokeColor": "#d0d0d0", "fillColor": "rgba(255,255,255,0.8)", "symbolType": "M-2.5,-0.93H2.5V0.93H-2.5Z", "symbolSize": 324, "symbolStrokeWidth": 0, "symbolOpacity": 1, "labelFontSize": 21.5, "labelFont": "DejaVu Sans", "labelColor": "#000000", "labelOffset": 33}}
     }},
    {"data": {"values": [{"label": "1e−8"}]}, "mark": {"type": "text", "align": "left", "baseline": "alphabetic", "dy": -4, "fontSize": 21.5, "color": "#000000"},
     "encoding": {"x": {"datum": 1.140368, "type": "quantitative"}, "y": {"datum": 2.363, "type": "quantitative"}, "text": {"field": "label"}}},
    {"data": {"values": [{"label": "1e9"}]}, "mark": {"type": "text", "align": "right", "baseline": "alphabetic", "dy": 47.7, "dx": -1, "fontSize": 21.5, "color": "#000000"},
     "encoding": {"x": {"datum": 1.151179, "type": "quantitative"}, "y": {"datum": -4.627, "type": "quantitative"}, "text": {"field": "label"}}}
  ]
}
],
"resolve": {"scale": {"color": "independent"}, "legend": {"color": "independent"}}
}
